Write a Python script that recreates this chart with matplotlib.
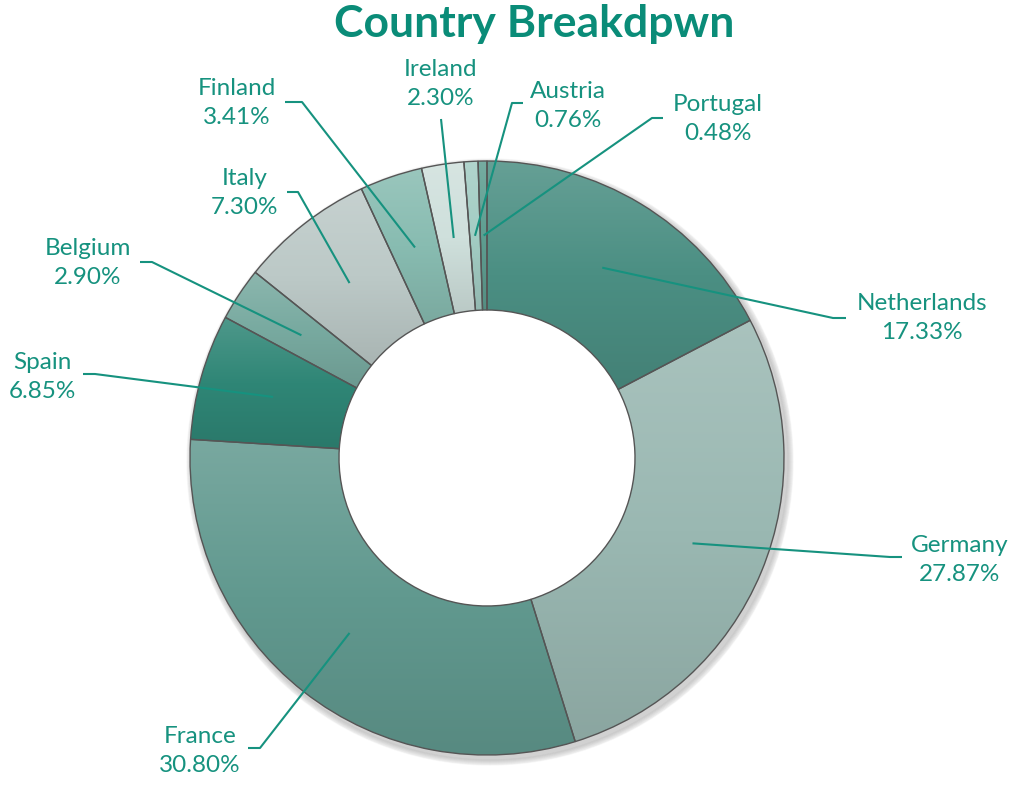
import numpy as np
import matplotlib.pyplot as plt
from matplotlib.colors import LinearSegmentedColormap, to_rgb

plt.rcParams['font.family'] = ['Lato', 'DejaVu Sans']

countries = ["Netherlands", "Germany", "France", "Spain", "Belgium",
             "Italy", "Finland", "Ireland", "Austria", "Portugal"]
shares = [17.33, 27.87, 30.80, 6.85, 2.90, 7.30, 3.41, 2.30, 0.76, 0.48]
slice_colors = ["#4b8f83", "#9ab8b2", "#61998f", "#2f8676", "#78aaa0",
                "#bcc9c7", "#88bcb1", "#cfe0dc", "#a3cdc4", "#5e9e91"]

# label layout in pixel coords (x, y from top): label centre, elbow, end of tick
label_pos = [(922, 318), (960, 560), (200, 751), (42, 377), (88, 263),
             (245, 193), (237, 103), (441, 84), (568, 106), (718, 119)]
elbow_pos = [(833, 318), (890, 557), (260, 748), (95, 374), (152, 262),
             (298, 192), (302, 102), (441, 119), (512, 103), (652, 118)]
tick_end = [(846, 318), (902, 557), (248, 748), (83, 374), (140, 262),
            (287, 192), (285, 102), (441, 119), (523, 103), (663, 118)]

W, H = 1015, 787
text_color = "#16927f"

fig = plt.figure(figsize=(W / 100, H / 100), dpi=100)
ax = fig.add_axes([0, 0, 1, 1])

cx, cy = 487, H - 458
outer_r = 297
ring_w = 149

# soft shadow behind the ring
for k in range(6):
    sh = plt.Circle((cx + 3, cy - 4), outer_r + 6 - k, color="#000000",
                    alpha=0.03, zorder=0)
    ax.add_patch(sh)
hole = plt.Circle((cx, cy), outer_r - ring_w, color="white", zorder=0.5)
ax.add_patch(hole)

wedges, _ = ax.pie(shares, startangle=90, counterclock=False, radius=outer_r,
                   center=(cx, cy), colors=slice_colors,
                   wedgeprops=dict(width=ring_w, edgecolor="#555555", linewidth=1.0))

# vertical light-to-dark gradient inside each slice
for w, col in zip(wedges, slice_colors):
    base = np.array(to_rgb(col))
    light = np.clip(base + (1 - base) * 0.15, 0, 1)
    dark = base * 0.9
    cmap = LinearSegmentedColormap.from_list("g", [dark, base, light])
    ext = w.get_path().get_extents()
    grad = np.linspace(0, 1, 256).reshape(-1, 1)
    im = ax.imshow(grad, cmap=cmap, origin="lower", aspect="auto",
                   extent=(ext.x0, ext.x1, ext.y0, ext.y1), zorder=1.5)
    im.set_clip_path(w)
    w.set_zorder(2)
    w.set_facecolor("none")

cum = 0.0
for name, v, lp, ep, te in zip(countries, shares, label_pos, elbow_pos, tick_end):
    ang = np.deg2rad(90 - (cum + v / 2) * 3.6)
    cum += v
    r_mid = outer_r - ring_w / 2
    ax_ = cx + r_mid * np.cos(ang)
    ay_ = cy + r_mid * np.sin(ang)
    ax.plot([ax_, ep[0], te[0]], [ay_, H - ep[1], H - te[1]],
            color=text_color, lw=1.5, zorder=3, solid_capstyle="butt")
    ax.text(lp[0], H - lp[1], f"{name}\n{v:.2f}%", ha="center", va="center",
            fontsize=17.5, color=text_color, linespacing=1.45, zorder=4)

ax.text(534, H - 24, "Country Breakdpwn", ha="center", va="center",
        fontsize=32, fontweight="bold", color="#0a8c78")

ax.set_xlim(0, W)
ax.set_ylim(0, H)
ax.set_aspect("equal")
ax.axis("off")

fig.savefig("out.png", dpi=100)
